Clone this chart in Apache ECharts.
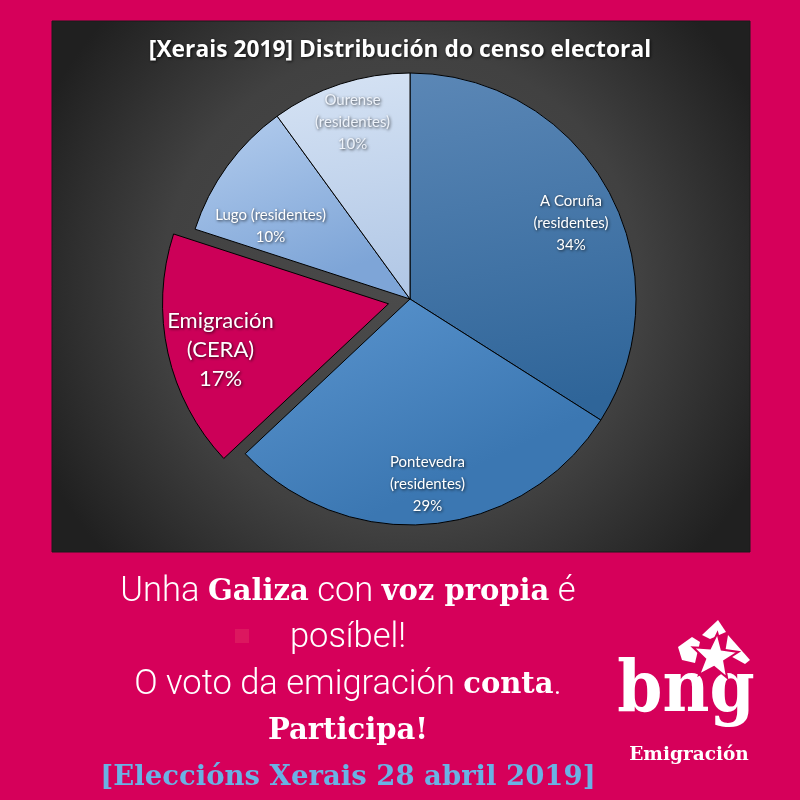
<!DOCTYPE html>
<html><head><meta charset="utf-8">
<script src="https://cdn.jsdelivr.net/npm/echarts@6/dist/echarts.min.js"></script>
<style>html,body{margin:0;padding:0;background:#d6005a}#c{width:800px;height:800px}</style>
</head><body><div id="c"></div>
<script>
// ---- data ----
const categories = ['A Coruña (residentes)', 'Pontevedra (residentes)', 'Emigración (CERA)', 'Lugo (residentes)', 'Ourense (residentes)'];
const labelNames = ['A Coruña\n(residentes)', 'Pontevedra\n(residentes)', 'Emigración\n(CERA)', 'Lugo (residentes)', 'Ourense\n(residentes)'];
const shares = [34, 29, 17, 10, 10];
const explodedCategory = 'Emigración (CERA)';
const chartTitle = '[Xerais 2019] Distribución do censo electoral';

// ---- styles ----
function lg(a, b) { return new echarts.graphic.LinearGradient(0, 0, 0.3, 1, [{offset: 0, color: a}, {offset: 1, color: b}]); }
const sliceColors = [
  lg('#5b87b6', '#2f6599'),
  lg('#5c96d0', '#3b77b2'),
  '#cc0058',
  lg('#b4cdee', '#7ea5d7'),
  lg('#d6e3f4', '#b2c8e6')
];
// label nudges (the label ring is not exploded, so the Emigración nudge includes the explosion shift)
const labelNudge = { 'A Coruña (residentes)': [-2, 14], 'Emigración (CERA)': [-8, 10], 'Lugo (residentes)': [11, 36] };

const chart = echarts.init(document.getElementById('c'));

const mainData = categories.map((c, i) => ({
  name: c, value: shares[i], selected: c === explodedCategory,
  itemStyle: { color: sliceColors[i] }
}));
const labelData = categories.map((c, i) => {
  const big = c === explodedCategory;
  return {
    name: c, value: shares[i],
    label: { fontSize: big ? 22 : 15, lineHeight: big ? 29 : 22, offset: labelNudge[c] || [0, 0],
      color: c === 'Ourense (residentes)' ? '#eef3fa' : '#ffffff' }
  };
});

function star(cx, cy, R, r, rot) {
  const pts = [];
  for (let k = 0; k < 10; k++) {
    const a = rot + k * Math.PI / 5;
    const rr = k % 2 === 0 ? R : r;
    pts.push([cx + rr * Math.sin(a), cy - rr * Math.cos(a)]);
  }
  return pts;
}

const option = {
  backgroundColor: '#d6005a',
  animation: false,
  title: {
    text: chartTitle, left: 'center', top: 34,
    textStyle: { color: '#ffffff', fontFamily: 'Open Sans', fontWeight: 'bold', fontSize: 22.8,
      textShadowColor: 'rgba(0,0,0,0.8)', textShadowBlur: 3, textShadowOffsetX: 1, textShadowOffsetY: 1 }
  },
  graphic: [
    { type: 'rect', z: -10, shape: { x: 52, y: 21, width: 698, height: 531 },
      style: { fill: new echarts.graphic.RadialGradient(0.5, 0.5, 0.75, [{offset: 0, color: '#4b4b4b'}, {offset: 0.6, color: '#414141'}, {offset: 1, color: '#202020'}]),
        stroke: '#1a1a1a', lineWidth: 1 } },
    { type: 'rect', z: -10, shape: { x: 235, y: 629, width: 14, height: 14 }, style: { fill: '#dc175f' } },
    { type: 'text', z: 5, style: {
        x: 348, y: 569, align: 'center', verticalAlign: 'top',
        text: '{l|Unha }{b|Galiza}{l| con }{b|voz propia}{l| é}\n{l|posíbel!}\n{l|O voto da emigración }{b|conta}{l|.}\n{b|Participa!}\n{c|[Eleccións Xerais 28 abril 2019]}',
        rich: {
          l: { fontFamily: 'Roboto', fontWeight: 300, fontSize: 34.5, fill: '#ffffff', lineHeight: 46.5 },
          b: { fontFamily: 'DejaVu Serif', fontWeight: 'bold', fontSize: 29, fill: '#ffffff', lineHeight: 46.5 },
          c: { fontFamily: 'DejaVu Serif', fontWeight: 'bold', fontSize: 27.5, fill: '#6ab2e4', lineHeight: 46.5 }
        }
    } },
    { type: 'text', z: 5, scaleX: 0.91, originX: 686, style: {
        x: 686, y: 657, align: 'center', verticalAlign: 'top', text: 'bng',
        fontFamily: 'DejaVu Serif', fontWeight: 'bold', fontSize: 71, fill: '#ffffff' } },
    { type: 'text', z: 5, style: {
        x: 689, y: 746, align: 'center', verticalAlign: 'top', text: 'Emigración',
        fontFamily: 'DejaVu Serif', fontWeight: 'bold', fontSize: 18.5, fill: '#ffffff' } },
    { type: 'polygon', z: 6, shape: { points: star(715, 657, 24, 10, 0.1) }, style: { fill: '#ffffff', stroke: '#d6005a', lineWidth: 2 } },
    { type: 'polygon', z: 5, shape: { points: [[702, 635], [718, 620], [726, 632], [710, 639]] }, style: { fill: '#ffffff' } },
    { type: 'polygon', z: 5, shape: { points: [[678, 647], [692, 637], [700, 642], [695, 663], [682, 660]] }, style: { fill: '#ffffff' } },
    { type: 'polygon', z: 5, shape: { points: [[728, 635], [750, 660], [745, 664], [725, 653]] }, style: { fill: '#ffffff' } }
  ],
  series: [
    {
      type: 'pie', z: 2, center: [410, 299], radius: 226, startAngle: 90, clockwise: true,
      selectedMode: 'multiple', selectedOffset: 22, avoidLabelOverlap: false,
      label: { show: false }, labelLine: { show: false },
      itemStyle: { borderColor: '#000000', borderWidth: 1 },
      emphasis: { disabled: true },
      data: mainData
    },
    {
      type: 'pie', z: 3, silent: true, center: [410, 299], radius: [140, 226], startAngle: 90, clockwise: true,
      selectedMode: false, avoidLabelOverlap: false,
      itemStyle: { color: 'rgba(0,0,0,0)', borderWidth: 0 },
      emphasis: { disabled: true },
      labelLine: { show: false },
      label: {
        show: true, position: 'inside', color: '#ffffff', fontFamily: 'Lato', fontSize: 15, lineHeight: 22,
        textShadowColor: 'rgba(0,0,0,0.75)', textShadowBlur: 3, textShadowOffsetX: 1, textShadowOffsetY: 1,
        formatter: p => labelNames[p.dataIndex] + '\n' + Math.round(p.percent) + '%'
      },
      data: labelData
    }
  ]
};
chart.setOption(option);
</script></body></html>
